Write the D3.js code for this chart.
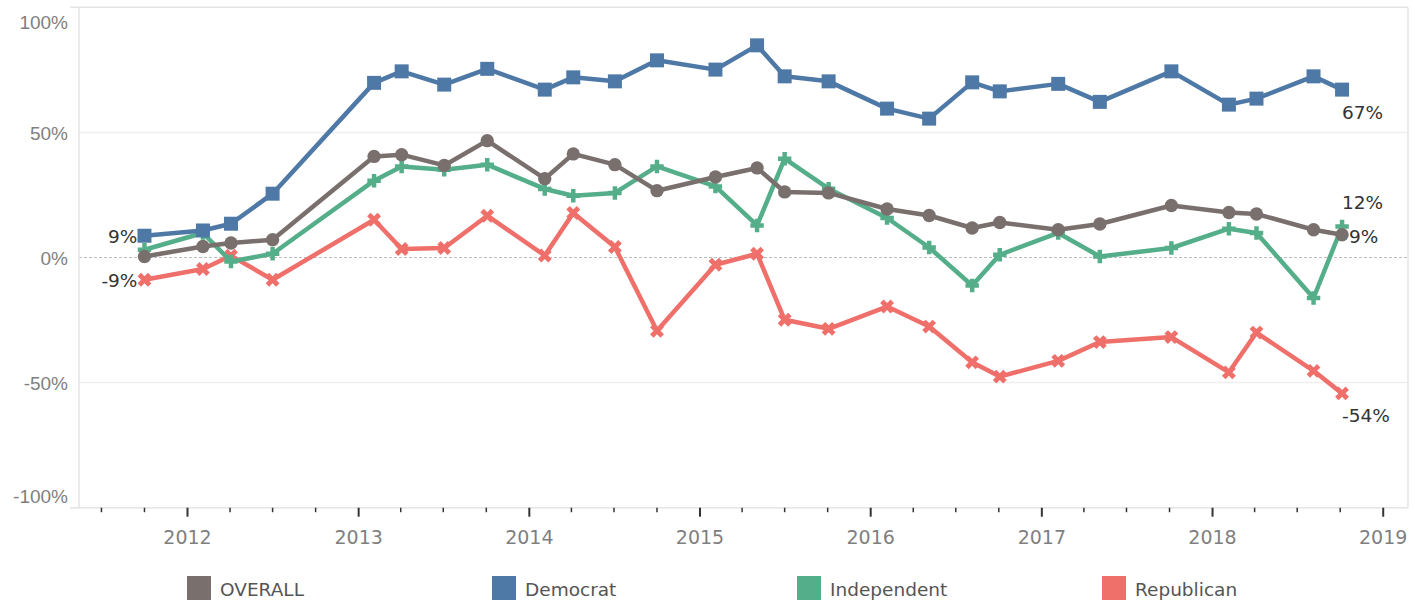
<!DOCTYPE html>
<html lang="en">
    <head>
        <meta charset="utf-8">
        <title>Party trend</title>
        <script src="https://d3js.org/d3.v7.min.js"></script>
        <style type="text/css">
        body {
            margin: 0;
            background-color: white;
        }
        svg {
            display: block;
            font-family: "DejaVu Sans", sans-serif;
        }
        .axis text {
            fill: #7f7f7f;
            font-size: 19px;
        }
        .legend text {
            fill: #555;
            font-size: 18.5px;
        }
        .lbl {
            fill: #333;
            font-size: 18.5px;
        }
        </style>
    </head>
    <body>
        <script>
        // survey dates (one per wave)
        var dates = ["2011-10-01", "2012-02-03", "2012-04-03", "2012-07-01", "2013-02-03", "2013-04-03",
                     "2013-07-03", "2013-10-03", "2014-02-03", "2014-04-05", "2014-07-03", "2014-10-01",
                     "2015-02-03", "2015-05-03", "2015-07-01", "2015-10-03", "2016-02-05", "2016-05-05",
                     "2016-08-05", "2016-10-03", "2017-02-05", "2017-05-05", "2017-10-05", "2018-02-05",
                     "2018-04-05", "2018-08-05", "2018-10-05"];

        var seriesNames = ["OVERALL", "Democrat", "Independent", "Republican"];
        var seriesColors = ["#79706e", "#4e79a7", "#55ae8a", "#ef6f6a"];

        var overall = [0.4, 4.4, 5.8, 7.1, 40.4, 41.1, 36.8, 46.7, 31.5, 41.4, 37.1, 26.7, 32.2, 35.8,
                       26.2, 25.8, 19.4, 16.8, 11.8, 14.0, 11.1, 13.4, 20.8, 18.0, 17.4, 11.1, 9.1];
        var democrat = [8.7, 10.8, 13.5, 25.5, 69.8, 74.4, 69.1, 75.4, 67.1, 72.0, 70.4, 78.8, 75.1, 84.8,
                        72.4, 70.4, 59.5, 55.5, 70.0, 66.4, 69.4, 62.2, 74.4, 61.1, 63.5, 72.4, 67.1];
        var independent = [3.1, 9.8, -1.6, 1.5, 30.7, 36.4, 35.1, 37.1, 27.4, 24.7, 25.8, 36.4, 28.4, 12.8,
                           39.5, 27.5, 15.8, 4.0, -11.2, 1.1, 9.8, 0.4, 3.8, 11.5, 9.8, -16.2, 12.4];
        var republican = [-8.9, -4.6, 0.7, -8.9, 15.1, 3.4, 3.8, 16.7, 0.8, 17.8, 4.2, -29.3, -2.9, 1.5,
                          -24.9, -28.5, -19.6, -27.6, -41.9, -47.6, -41.3, -33.8, -31.8, -45.9, -30.0, -45.3, -54.3];

        var yTicks = [-100, -50, 0, 50, 100];

        var width = 1422,
            height = 600;
        var plotL = 79, plotR = 1408, plotT = 7.3, plotB = 507.7;

        var parse = d3.timeParse("%Y-%m-%d");
        var dateObjs = dates.map(parse);
        var values = [overall, democrat, independent, republican];

        var svg = d3.select("body").append("svg")
            .attr("width", width)
            .attr("height", height);

        var x = d3.scaleTime()
            .domain([new Date(2011, 4, 14), new Date(2019, 1, 23)])
            .range([plotL, plotR]);
        var y = d3.scaleLinear()
            .domain([-100, 100])
            .range([plotB, plotT]);
        var color = d3.scaleOrdinal().domain(seriesNames).range(seriesColors);

        // gridlines
        svg.selectAll(".grid")
            .data([-50, 50])
            .enter().append("line")
            .attr("x1", plotL).attr("x2", plotR)
            .attr("y1", function(d) { return y(d); })
            .attr("y2", function(d) { return y(d); })
            .attr("stroke", "#eeeeee")
            .attr("stroke-width", 1.5);

        svg.append("line")
            .attr("x1", plotL).attr("x2", plotR)
            .attr("y1", y(0)).attr("y2", y(0))
            .attr("stroke", "#bdbdbd")
            .attr("stroke-width", 1)
            .attr("stroke-dasharray", "3,2");

        // frame
        var frame = "#e4e4e4";
        svg.append("line").attr("x1", 70).attr("x2", plotR).attr("y1", plotT).attr("y2", plotT)
            .attr("stroke", frame).attr("stroke-width", 1.5);
        svg.append("line").attr("x1", 70).attr("x2", plotR).attr("y1", plotB).attr("y2", plotB)
            .attr("stroke", frame).attr("stroke-width", 1.5);
        svg.append("line").attr("x1", plotL).attr("x2", plotL).attr("y1", plotT).attr("y2", plotB)
            .attr("stroke", frame).attr("stroke-width", 1.5);
        svg.append("line").attr("x1", plotR).attr("x2", plotR).attr("y1", plotT).attr("y2", plotB)
            .attr("stroke", frame).attr("stroke-width", 1.5);

        // y axis
        var yAxis = svg.append("g")
            .attr("class", "axis")
            .attr("transform", "translate(" + plotL + ",0)")
            .call(d3.axisLeft(y).tickValues(yTicks).tickSize(0).tickPadding(11)
                .tickFormat(function(d) { return d + "%"; }));
        yAxis.select(".domain").remove();
        yAxis.selectAll("text")
            .attr("dy", function(d) { return d == 100 ? "1.1em" : (d == -100 ? "-0.3em" : "0.35em"); });

        // x axis: quarter ticks, longer at years
        var quarters = d3.timeMonth.every(3).range(new Date(2011, 6, 1), new Date(2019, 0, 2));
        var xAxis = svg.append("g")
            .attr("class", "axis")
            .attr("transform", "translate(0," + plotB + ")");
        xAxis.selectAll("line")
            .data(quarters)
            .enter().append("line")
            .attr("x1", function(d) { return x(d); })
            .attr("x2", function(d) { return x(d); })
            .attr("y1", 0)
            .attr("y2", function(d) { return d.getMonth() == 0 ? 9 : 4.5; })
            .attr("stroke", "#333")
            .attr("stroke-width", function(d) { return d.getMonth() == 0 ? 2 : 1.5; });
        xAxis.selectAll("text")
            .data(quarters.filter(function(d) { return d.getMonth() == 0; }))
            .enter().append("text")
            .attr("x", function(d) { return x(d); })
            .attr("y", 36)
            .attr("text-anchor", "middle")
            .text(function(d) { return d.getFullYear(); });

        // lines and markers
        var line = d3.line()
            .x(function(d) { return x(d.date); })
            .y(function(d) { return y(d.v); });

        var series = seriesNames.map(function(name, i) {
            return { name: name, pts: dateObjs.map(function(dt, j) { return { date: dt, v: values[i][j] }; }) };
        });

        var drawOrder = ["Republican", "Independent", "Democrat", "OVERALL"];
        var symbols = {
            "OVERALL": d3.symbol().type(d3.symbolCircle).size(140),
            "Democrat": d3.symbol().type(d3.symbolSquare).size(196),
            "Independent": d3.symbol().type(d3.symbolCross).size(100),
            "Republican": d3.symbol().type(d3.symbolCross).size(120)
        };

        drawOrder.forEach(function(name) {
            var s = series.filter(function(d) { return d.name == name; })[0];
            var g = svg.append("g").attr("class", "series");
            g.append("path")
                .datum(s.pts)
                .attr("fill", "none")
                .attr("stroke", color(name))
                .attr("stroke-width", 4.5)
                .attr("stroke-linejoin", "round")
                .attr("d", line);
            g.selectAll(".mark")
                .data(s.pts)
                .enter().append("path")
                .attr("class", "mark")
                .attr("fill", color(name))
                .attr("transform", function(d) {
                    return "translate(" + x(d.date) + "," + y(d.v) + ")" + (name == "Republican" ? " rotate(45)" : "");
                })
                .attr("d", symbols[name]());
        });

        // value labels at the ends
        var labels = [
            { name: "Democrat", idx: 0, dx: -7, dy: 7, anchor: "end" },
            { name: "Republican", idx: 0, dx: -7, dy: 7, anchor: "end" },
            { name: "Democrat", idx: dates.length - 1, dx: 0, dy: 29, anchor: "start" },
            { name: "Independent", idx: dates.length - 1, dx: 0, dy: -17, anchor: "start" },
            { name: "OVERALL", idx: dates.length - 1, dx: 7, dy: 8, anchor: "start" },
            { name: "Republican", idx: dates.length - 1, dx: 0, dy: 29, anchor: "start" }
        ];
        svg.selectAll(".lbl")
            .data(labels)
            .enter().append("text")
            .attr("class", "lbl")
            .attr("text-anchor", function(d) { return d.anchor; })
            .attr("x", function(d) { return x(dateObjs[d.idx]) + d.dx; })
            .attr("y", function(d) { return y(values[seriesNames.indexOf(d.name)][d.idx]) + d.dy; })
            .text(function(d) { return Math.round(values[seriesNames.indexOf(d.name)][d.idx]) + "%"; });

        // legend
        var lx = d3.scalePoint().domain(seriesNames).range([187, 1102]);
        var legend = svg.append("g").attr("class", "legend");
        var items = legend.selectAll("g")
            .data(seriesNames)
            .enter().append("g")
            .attr("transform", function(d) { return "translate(" + lx(d) + ",576)"; });
        items.append("rect")
            .attr("width", 24)
            .attr("height", 24)
            .attr("fill", function(d) { return color(d); });
        items.append("text")
            .attr("x", 33)
            .attr("y", 20)
            .text(function(d) { return d; });
        </script>
    </body>
</html>
